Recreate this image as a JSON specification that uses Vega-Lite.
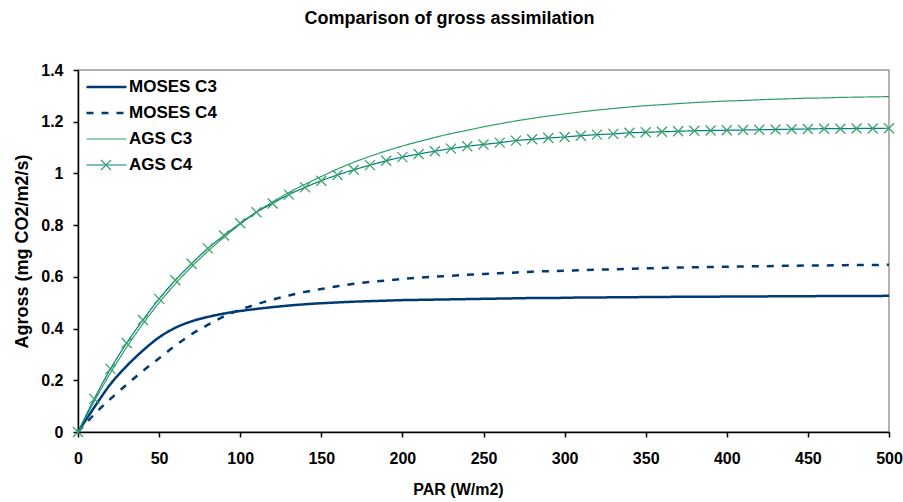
{
  "$schema": "https://vega.github.io/schema/vega-lite/v6.json",
  "width": 811,
  "height": 362,
  "autosize": {"type": "none"},
  "padding": {"left": 78, "top": 70, "right": 14, "bottom": 70},
  "background": "white",
  "title": {"text": "Comparison of gross assimilation", "font": "Liberation Sans", "fontSize": 18, "fontWeight": "bold", "color": "black", "anchor": "middle", "dx": -34, "offset": 34},
  "config": {
    "font": "Liberation Sans",
    "view": {"stroke": "#9a9a9a", "strokeWidth": 1.5}
  },
  "datasets": {
    "curves": [
      {"par":0,"agross":0,"series":"MOSES C3"},{"par":10,"agross":0.095,"series":"MOSES C3"},{"par":20,"agross":0.185,"series":"MOSES C3"},{"par":30,"agross":0.255,"series":"MOSES C3"},{"par":40,"agross":0.315,"series":"MOSES C3"},{"par":50,"agross":0.366,"series":"MOSES C3"},{"par":60,"agross":0.403,"series":"MOSES C3"},{"par":70,"agross":0.428,"series":"MOSES C3"},{"par":80,"agross":0.445,"series":"MOSES C3"},{"par":90,"agross":0.458,"series":"MOSES C3"},{"par":100,"agross":0.468,"series":"MOSES C3"},{"par":110,"agross":0.476,"series":"MOSES C3"},{"par":120,"agross":0.483,"series":"MOSES C3"},{"par":130,"agross":0.489,"series":"MOSES C3"},{"par":140,"agross":0.494,"series":"MOSES C3"},{"par":150,"agross":0.498,"series":"MOSES C3"},{"par":160,"agross":0.501,"series":"MOSES C3"},{"par":170,"agross":0.504,"series":"MOSES C3"},{"par":180,"agross":0.506,"series":"MOSES C3"},{"par":190,"agross":0.508,"series":"MOSES C3"},{"par":200,"agross":0.510,"series":"MOSES C3"},{"par":210,"agross":0.511,"series":"MOSES C3"},{"par":220,"agross":0.512,"series":"MOSES C3"},{"par":230,"agross":0.513,"series":"MOSES C3"},{"par":240,"agross":0.514,"series":"MOSES C3"},{"par":250,"agross":0.515,"series":"MOSES C3"},{"par":260,"agross":0.516,"series":"MOSES C3"},{"par":270,"agross":0.517,"series":"MOSES C3"},{"par":280,"agross":0.518,"series":"MOSES C3"},{"par":290,"agross":0.518,"series":"MOSES C3"},{"par":300,"agross":0.519,"series":"MOSES C3"},{"par":310,"agross":0.520,"series":"MOSES C3"},{"par":320,"agross":0.520,"series":"MOSES C3"},{"par":330,"agross":0.521,"series":"MOSES C3"},{"par":340,"agross":0.521,"series":"MOSES C3"},{"par":350,"agross":0.522,"series":"MOSES C3"},{"par":360,"agross":0.522,"series":"MOSES C3"},{"par":370,"agross":0.523,"series":"MOSES C3"},{"par":380,"agross":0.523,"series":"MOSES C3"},{"par":390,"agross":0.523,"series":"MOSES C3"},{"par":400,"agross":0.524,"series":"MOSES C3"},{"par":410,"agross":0.524,"series":"MOSES C3"},{"par":420,"agross":0.524,"series":"MOSES C3"},{"par":430,"agross":0.525,"series":"MOSES C3"},{"par":440,"agross":0.525,"series":"MOSES C3"},{"par":450,"agross":0.525,"series":"MOSES C3"},{"par":460,"agross":0.526,"series":"MOSES C3"},{"par":470,"agross":0.526,"series":"MOSES C3"},{"par":480,"agross":0.526,"series":"MOSES C3"},{"par":490,"agross":0.526,"series":"MOSES C3"},{"par":500,"agross":0.527,"series":"MOSES C3"},
      {"par":0,"agross":0,"series":"MOSES C4"},{"par":10,"agross":0.068,"series":"MOSES C4"},{"par":20,"agross":0.128,"series":"MOSES C4"},{"par":30,"agross":0.183,"series":"MOSES C4"},{"par":40,"agross":0.236,"series":"MOSES C4"},{"par":50,"agross":0.285,"series":"MOSES C4"},{"par":60,"agross":0.334,"series":"MOSES C4"},{"par":70,"agross":0.378,"series":"MOSES C4"},{"par":80,"agross":0.414,"series":"MOSES C4"},{"par":90,"agross":0.447,"series":"MOSES C4"},{"par":100,"agross":0.473,"series":"MOSES C4"},{"par":110,"agross":0.494,"series":"MOSES C4"},{"par":120,"agross":0.512,"series":"MOSES C4"},{"par":130,"agross":0.528,"series":"MOSES C4"},{"par":140,"agross":0.542,"series":"MOSES C4"},{"par":150,"agross":0.553,"series":"MOSES C4"},{"par":160,"agross":0.564,"series":"MOSES C4"},{"par":170,"agross":0.573,"series":"MOSES C4"},{"par":180,"agross":0.580,"series":"MOSES C4"},{"par":190,"agross":0.586,"series":"MOSES C4"},{"par":200,"agross":0.592,"series":"MOSES C4"},{"par":210,"agross":0.597,"series":"MOSES C4"},{"par":220,"agross":0.601,"series":"MOSES C4"},{"par":230,"agross":0.604,"series":"MOSES C4"},{"par":240,"agross":0.608,"series":"MOSES C4"},{"par":250,"agross":0.611,"series":"MOSES C4"},{"par":260,"agross":0.614,"series":"MOSES C4"},{"par":270,"agross":0.617,"series":"MOSES C4"},{"par":280,"agross":0.620,"series":"MOSES C4"},{"par":290,"agross":0.622,"series":"MOSES C4"},{"par":300,"agross":0.624,"series":"MOSES C4"},{"par":310,"agross":0.626,"series":"MOSES C4"},{"par":320,"agross":0.628,"series":"MOSES C4"},{"par":330,"agross":0.629,"series":"MOSES C4"},{"par":340,"agross":0.631,"series":"MOSES C4"},{"par":350,"agross":0.633,"series":"MOSES C4"},{"par":360,"agross":0.634,"series":"MOSES C4"},{"par":370,"agross":0.636,"series":"MOSES C4"},{"par":380,"agross":0.637,"series":"MOSES C4"},{"par":390,"agross":0.638,"series":"MOSES C4"},{"par":400,"agross":0.639,"series":"MOSES C4"},{"par":410,"agross":0.640,"series":"MOSES C4"},{"par":420,"agross":0.641,"series":"MOSES C4"},{"par":430,"agross":0.642,"series":"MOSES C4"},{"par":440,"agross":0.643,"series":"MOSES C4"},{"par":450,"agross":0.644,"series":"MOSES C4"},{"par":460,"agross":0.644,"series":"MOSES C4"},{"par":470,"agross":0.645,"series":"MOSES C4"},{"par":480,"agross":0.646,"series":"MOSES C4"},{"par":490,"agross":0.646,"series":"MOSES C4"},{"par":500,"agross":0.647,"series":"MOSES C4"},
      {"par":0,"agross":0,"series":"AGS C3"},{"par":10,"agross":0.118,"series":"AGS C3"},{"par":20,"agross":0.228,"series":"AGS C3"},{"par":30,"agross":0.328,"series":"AGS C3"},{"par":40,"agross":0.418,"series":"AGS C3"},{"par":50,"agross":0.500,"series":"AGS C3"},{"par":60,"agross":0.573,"series":"AGS C3"},{"par":70,"agross":0.639,"series":"AGS C3"},{"par":80,"agross":0.699,"series":"AGS C3"},{"par":90,"agross":0.753,"series":"AGS C3"},{"par":100,"agross":0.804,"series":"AGS C3"},{"par":110,"agross":0.850,"series":"AGS C3"},{"par":120,"agross":0.890,"series":"AGS C3"},{"par":130,"agross":0.926,"series":"AGS C3"},{"par":140,"agross":0.958,"series":"AGS C3"},{"par":150,"agross":0.988,"series":"AGS C3"},{"par":160,"agross":1.017,"series":"AGS C3"},{"par":170,"agross":1.043,"series":"AGS C3"},{"par":180,"agross":1.066,"series":"AGS C3"},{"par":190,"agross":1.087,"series":"AGS C3"},{"par":200,"agross":1.106,"series":"AGS C3"},{"par":210,"agross":1.123,"series":"AGS C3"},{"par":220,"agross":1.139,"series":"AGS C3"},{"par":230,"agross":1.154,"series":"AGS C3"},{"par":240,"agross":1.167,"series":"AGS C3"},{"par":250,"agross":1.180,"series":"AGS C3"},{"par":260,"agross":1.192,"series":"AGS C3"},{"par":270,"agross":1.203,"series":"AGS C3"},{"par":280,"agross":1.213,"series":"AGS C3"},{"par":290,"agross":1.222,"series":"AGS C3"},{"par":300,"agross":1.230,"series":"AGS C3"},{"par":310,"agross":1.238,"series":"AGS C3"},{"par":320,"agross":1.245,"series":"AGS C3"},{"par":330,"agross":1.251,"series":"AGS C3"},{"par":340,"agross":1.257,"series":"AGS C3"},{"par":350,"agross":1.262,"series":"AGS C3"},{"par":360,"agross":1.266,"series":"AGS C3"},{"par":370,"agross":1.270,"series":"AGS C3"},{"par":380,"agross":1.274,"series":"AGS C3"},{"par":390,"agross":1.277,"series":"AGS C3"},{"par":400,"agross":1.280,"series":"AGS C3"},{"par":410,"agross":1.282,"series":"AGS C3"},{"par":420,"agross":1.285,"series":"AGS C3"},{"par":430,"agross":1.287,"series":"AGS C3"},{"par":440,"agross":1.289,"series":"AGS C3"},{"par":450,"agross":1.291,"series":"AGS C3"},{"par":460,"agross":1.292,"series":"AGS C3"},{"par":470,"agross":1.294,"series":"AGS C3"},{"par":480,"agross":1.295,"series":"AGS C3"},{"par":490,"agross":1.296,"series":"AGS C3"},{"par":500,"agross":1.297,"series":"AGS C3"},
      {"par":0,"agross":0,"series":"AGS C4"},{"par":10,"agross":0.128,"series":"AGS C4"},{"par":20,"agross":0.244,"series":"AGS C4"},{"par":30,"agross":0.344,"series":"AGS C4"},{"par":40,"agross":0.433,"series":"AGS C4"},{"par":50,"agross":0.515,"series":"AGS C4"},{"par":60,"agross":0.587,"series":"AGS C4"},{"par":70,"agross":0.651,"series":"AGS C4"},{"par":80,"agross":0.710,"series":"AGS C4"},{"par":90,"agross":0.760,"series":"AGS C4"},{"par":100,"agross":0.807,"series":"AGS C4"},{"par":110,"agross":0.850,"series":"AGS C4"},{"par":120,"agross":0.884,"series":"AGS C4"},{"par":130,"agross":0.918,"series":"AGS C4"},{"par":140,"agross":0.946,"series":"AGS C4"},{"par":150,"agross":0.972,"series":"AGS C4"},{"par":160,"agross":0.994,"series":"AGS C4"},{"par":170,"agross":1.014,"series":"AGS C4"},{"par":180,"agross":1.032,"series":"AGS C4"},{"par":190,"agross":1.049,"series":"AGS C4"},{"par":200,"agross":1.063,"series":"AGS C4"},{"par":210,"agross":1.075,"series":"AGS C4"},{"par":220,"agross":1.086,"series":"AGS C4"},{"par":230,"agross":1.096,"series":"AGS C4"},{"par":240,"agross":1.105,"series":"AGS C4"},{"par":250,"agross":1.112,"series":"AGS C4"},{"par":260,"agross":1.119,"series":"AGS C4"},{"par":270,"agross":1.127,"series":"AGS C4"},{"par":280,"agross":1.132,"series":"AGS C4"},{"par":290,"agross":1.137,"series":"AGS C4"},{"par":300,"agross":1.141,"series":"AGS C4"},{"par":310,"agross":1.146,"series":"AGS C4"},{"par":320,"agross":1.150,"series":"AGS C4"},{"par":330,"agross":1.153,"series":"AGS C4"},{"par":340,"agross":1.157,"series":"AGS C4"},{"par":350,"agross":1.159,"series":"AGS C4"},{"par":360,"agross":1.161,"series":"AGS C4"},{"par":370,"agross":1.163,"series":"AGS C4"},{"par":380,"agross":1.165,"series":"AGS C4"},{"par":390,"agross":1.166,"series":"AGS C4"},{"par":400,"agross":1.167,"series":"AGS C4"},{"par":410,"agross":1.168,"series":"AGS C4"},{"par":420,"agross":1.169,"series":"AGS C4"},{"par":430,"agross":1.170,"series":"AGS C4"},{"par":440,"agross":1.171,"series":"AGS C4"},{"par":450,"agross":1.172,"series":"AGS C4"},{"par":460,"agross":1.173,"series":"AGS C4"},{"par":470,"agross":1.173,"series":"AGS C4"},{"par":480,"agross":1.174,"series":"AGS C4"},{"par":490,"agross":1.174,"series":"AGS C4"},{"par":500,"agross":1.175,"series":"AGS C4"}
    ]
  },
  "data": {"name": "curves"},
  "encoding": {
    "x": {
      "field": "par", "type": "quantitative",
      "scale": {"domain": [0, 500], "nice": false, "zero": false},
      "axis": {
        "title": "PAR (W/m2)", "values": [0, 50, 100, 150, 200, 250, 300, 350, 400, 450, 500], "format": "d",
        "grid": false, "labelFlush": false, "labelOverlap": false,
        "labelFont": "Liberation Sans", "labelFontSize": 16, "labelFontWeight": "bold", "labelColor": "black", "labelPadding": 13,
        "tickColor": "black", "tickSize": 5, "tickWidth": 1.5, "domainColor": "black", "domainWidth": 1.5,
        "titleFont": "Liberation Sans", "titleFontSize": 16, "titleFontWeight": "bold", "titleColor": "black", "titlePadding": 15, "titleX": 380
      }
    },
    "y": {
      "field": "agross", "type": "quantitative",
      "scale": {"domain": [0, 1.4], "nice": false},
      "axis": {
        "title": "Agross (mg CO2/m2/s)", "values": [0, 0.2, 0.4, 0.6, 0.8, 1, 1.2, 1.4], "format": "~g",
        "grid": false, "labelFlush": false, "labelOverlap": false,
        "labelFont": "Liberation Sans", "labelFontSize": 16, "labelFontWeight": "bold", "labelColor": "black", "labelPadding": 10,
        "tickColor": "black", "tickSize": 5, "tickWidth": 1.5, "domainColor": "black", "domainWidth": 1.5,
        "titleFont": "Liberation Sans", "titleFontSize": 18, "titleFontWeight": "bold", "titleColor": "black", "titlePadding": 9
      }
    }
  },
  "layer": [
    {
      "mark": {"type": "line", "interpolate": "monotone"},
      "encoding": {
        "color": {
          "field": "series", "type": "nominal",
          "scale": {"domain": ["MOSES C3", "MOSES C4", "AGS C3", "AGS C4"], "range": ["#003a75", "#003a75", "#2f9e62", "#007d80"]},
          "legend": {
            "title": null, "orient": "none", "legendX": 7, "legendY": 4,
            "symbolType": "stroke", "symbolSize": 1600, "clipHeight": 26,
            "labelFont": "Liberation Sans", "labelFontSize": 17, "labelFontWeight": "bold", "labelColor": "black",
            "labelOffset": 1, "rowPadding": 0
          }
        },
        "strokeDash": {
          "field": "series", "type": "nominal",
          "scale": {"domain": ["MOSES C3", "MOSES C4", "AGS C3", "AGS C4"], "range": [[1, 0], [7, 8], [1, 0], [1, 0]]}
        },
        "strokeWidth": {
          "field": "series", "type": "nominal",
          "scale": {"type": "ordinal", "domain": ["MOSES C3", "MOSES C4", "AGS C3", "AGS C4"], "range": [2.5, 2.5, 1.2, 1.2]}
        }
      }
    },
    {
      "transform": [{"filter": "datum.series === 'AGS C4'"}],
      "mark": {"type": "point", "shape": "M-1,-1L1,1M-1,1L1,-1", "filled": false, "color": "#3aa36a", "strokeWidth": 1.3, "size": 100, "opacity": 1},
      "encoding": {
        "shape": {
          "field": "series", "type": "nominal",
          "scale": {"domain": ["AGS C4"], "range": ["M-1,-1L1,1M-1,1L1,-1"]},
          "legend": {
            "title": null, "orient": "none", "legendX": 22, "legendY": 89,
            "symbolSize": 100, "symbolStrokeColor": "#3aa36a", "symbolStrokeWidth": 1.3,
            "labelExpr": "''", "labelFontSize": 1
          }
        }
      }
    }
  ]
}
